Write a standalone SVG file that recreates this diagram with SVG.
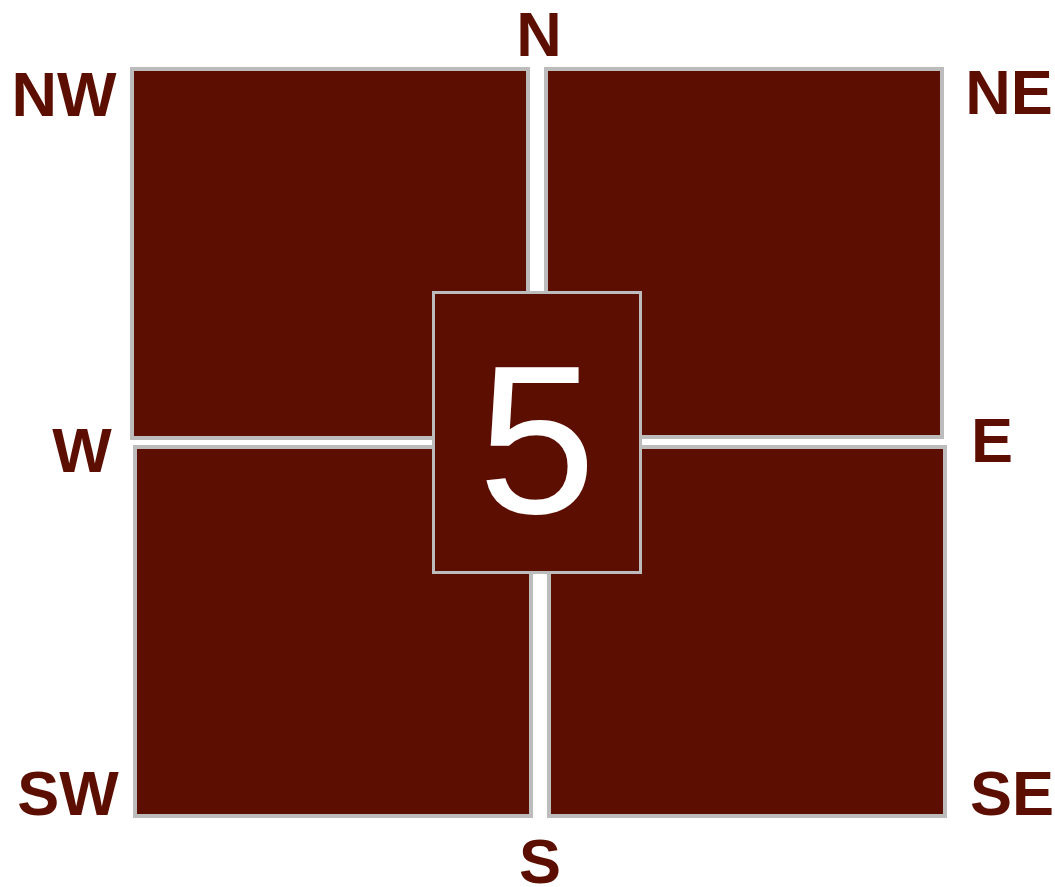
<svg xmlns="http://www.w3.org/2000/svg" width="1055" height="887" viewBox="0 0 1055 887">
<style>
.q{fill:#5c0e00;stroke:#bcbcbc;stroke-width:4}
.c{fill:#5c0e00;stroke:#bcbcbc;stroke-width:3}
.lbl{font-family:"Liberation Sans",Arial,sans-serif;font-weight:bold;font-size:63px;fill:#5c0e00;text-anchor:middle}
.num{font-family:"Liberation Sans",Arial,sans-serif;font-size:212px;fill:#ffffff;text-anchor:middle}
</style>
<rect width="1055" height="887" fill="#ffffff"/>
<g id="nw"><rect class="q" x="132" y="69" width="396" height="369"/></g>
<g id="ne"><rect class="q" x="546" y="69" width="396" height="368"/></g>
<g id="sw"><rect class="q" x="135" y="447" width="396" height="369"/></g>
<g id="se"><rect class="q" x="549" y="447" width="396" height="369"/></g>
<g id="center"><rect class="c" x="433.5" y="292.5" width="207" height="280"/>
<text class="num" x="537" y="513">5</text></g>
<g id="labels">
<text class="lbl" x="539" y="56">N</text>
<text class="lbl" x="64" y="116">NW</text>
<text class="lbl" x="1009" y="114">NE</text>
<text class="lbl" x="82" y="472">W</text>
<text class="lbl" x="992" y="462">E</text>
<text class="lbl" x="68" y="815">SW</text>
<text class="lbl" x="540" y="883">S</text>
<text class="lbl" x="1012" y="815">SE</text>
</g>
</svg>
